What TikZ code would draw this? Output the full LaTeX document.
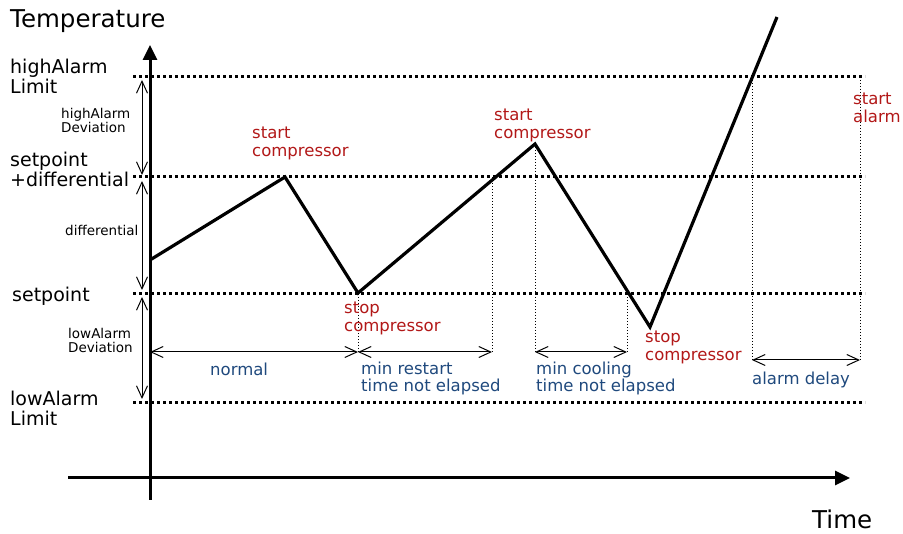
\documentclass[tikz,border=0pt]{standalone}
\usepackage{fontspec}
\setmainfont{DejaVu Sans}
\usetikzlibrary{arrows.meta}
\definecolor{eventred}{RGB}{178,24,24}
\definecolor{phaseblue}{RGB}{31,73,125}
\tikzset{
  axis/.style     = {line width=3pt, -{Triangle[length=15pt,width=14pt]}},
  level/.style    = {line width=3pt, dash pattern=on 3pt off 3pt},
  guide/.style    = {line width=0.8pt, dash pattern=on 1pt off 2pt},
  span/.style     = {line width=1pt,
                     {Straight Barb[length=12pt,width=11pt]}-{Straight Barb[length=12pt,width=11pt]}},
  curve/.style    = {line width=3.2pt},
  label/.style    = {inner sep=0pt, anchor=base west, align=left},
  axistext/.style = {label, font=\fontsize{24.5}{26}\selectfont},
  leveltext/.style= {label, font=\fontsize{19}{20}\selectfont},
  smalltext/.style= {label, font=\fontsize{13.5}{14.5}\selectfont},
  event/.style    = {label, text=eventred, font=\fontsize{16.5}{18}\selectfont},
  phase/.style    = {label, text=phaseblue, font=\fontsize{16.5}{17}\selectfont}
}

\begin{document}
\begin{tikzpicture}[x=1pt, y=-1pt]
  \useasboundingbox (0,0) rectangle (903,534);

  % axes
  \coordinate (ybot) at (150,500);
  \coordinate (ytop) at (150,45);
  \coordinate (xleft) at (68,478);
  \coordinate (xright) at (850,478);
  \draw[axis] (ybot) -- (ytop);
  \draw[axis] (xleft) -- (xright);
  \node[axistext] (temp) at (10,28) {Temperature};
  \node[axistext] (time) at (812,529) {Time};

  % limit levels
  \foreach \name/\y in {high/77, diff/177, set/294, low/403} {
    \coordinate (\name-l) at (133,\y);
    \coordinate (\name-r) at (865,\y);
    \draw[level] (\name-l) -- (\name-r);
  }
  \node[leveltext] (highlim) at (10,94)  {highAlarm\\Limit};
  \node[leveltext] (spdiff)  at (10,187) {setpoint\\+differential};
  \node[leveltext] (sp)      at (12,302) {setpoint};
  \node[leveltext] (lowlim)  at (10,426) {lowAlarm\\Limit};

  % deviations
  \coordinate (dev1) at (142,80);  \coordinate (dev2) at (142,175);
  \coordinate (dev3) at (142,181); \coordinate (dev4) at (142,290);
  \coordinate (dev5) at (142,297); \coordinate (dev6) at (142,399);
  \draw[span] (dev1) -- (dev2);
  \draw[span] (dev3) -- (dev4);
  \draw[span] (dev5) -- (dev6);
  \node[smalltext] (highdev) at (61,133) {highAlarm\\Deviation};
  \node[smalltext] (difftxt) at (65,236) {differential};
  \node[smalltext] (lowdev)  at (68,353) {lowAlarm\\Deviation};

  % temperature
  \coordinate (p0) at (150,260);
  \coordinate (p1) at (285,177);
  \coordinate (p2) at (358,293);
  \coordinate (p3) at (535,144);
  \coordinate (p4) at (650,327);
  \coordinate (p5) at (777,17);
  \draw[curve] (p0) -- (p1) -- (p2) -- (p3) -- (p4) -- (p5);

  % timing guides
  \foreach \name/\x/\ya/\yb in {ga/358/294/352, gb/492/177/352, gc/535/144/352,
                                gd/627/294/352, ge/752/77/360, gf/860/77/360} {
    \coordinate (\name-t) at (\x,\ya);
    \coordinate (\name-b) at (\x,\yb);
    \draw[guide] (\name-t) -- (\name-b);
  }
  \coordinate (axis-n) at (150,352);
  \draw[span] (axis-n) -- (ga-b);
  \draw[span] (ga-b) -- (gb-b);
  \draw[span] (gc-b) -- (gd-b);
  \draw[span] (ge-b) -- (gf-b);

  \node[event] (start1) at (252,157) {start\\compressor};
  \node[event] (stop1)  at (344,332) {stop\\compressor};
  \node[event] (start2) at (494,139) {start\\compressor};
  \node[event] (stop2)  at (645,361) {stop\\compressor};
  \node[event] (alarm)  at (853,123) {start\\alarm};

  \node[phase] (normal)  at (210,376) {normal};
  \node[phase] (restart) at (361,392) {min restart\\time not elapsed};
  \node[phase] (cooling) at (536,392) {min cooling\\time not elapsed};
  \node[phase] (delay)   at (752,385) {alarm delay};
\end{tikzpicture}
\end{document}
